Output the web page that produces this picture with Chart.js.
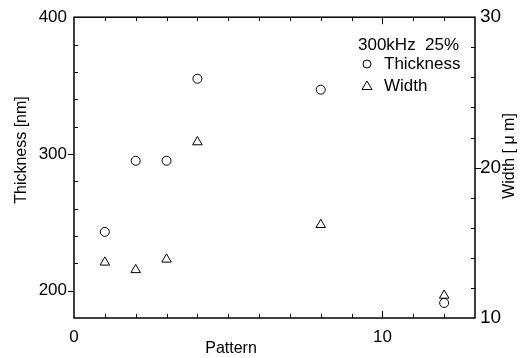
<!DOCTYPE html>
<html>
<head>
<meta charset="utf-8">
<script src="https://cdn.jsdelivr.net/npm/chart.js@4.4.1/dist/chart.umd.min.js"></script>
<style>
  html, body { margin: 0; padding: 0; background: #fff; }
  #wrap { width: 528px; height: 358px; }
</style>
</head>
<body>
<div id="wrap"><canvas id="chartCanvas" width="528" height="358"></canvas></div>
<script>
// data
const patterns = [1, 2, 3, 4, 8, 12];
const thickness = [243, 295, 295, 355, 347, 191];   // nm, left axis
const widths = [13.7, 13.2, 13.9, 21.7, 16.2, 11.5]; // um, right axis

const xTicks = [0, 10];
const thicknessTicks = [200, 300, 400];
const widthTicks = [10, 20, 30];
const legendTitle = '300kHz  25%';

const FONT = '"Liberation Sans", Arial, sans-serif';
const INK = '#000';

function toPoints(xs, ys) {
    return xs.map((x, i) => ({ x: x, y: ys[i] }));
}

function fixTicks(values) {
    return function (scale) {
        scale.ticks = values.map(v => ({ value: v }));
    };
}

// frame, inward/outward ticks, axis titles and the legend box
const framePlugin = {
    id: 'frame',
    afterDraw(chart) {
        const ctx = chart.ctx;
        const a = chart.chartArea;
        const sx = chart.scales.x;
        const yl = chart.scales.y;
        const yr = chart.scales.y2;
        ctx.save();
        ctx.strokeStyle = INK;
        ctx.lineWidth = 1.5;
        ctx.strokeRect(a.left, a.top, a.right - a.left, a.bottom - a.top);

        ctx.lineWidth = 1;
        ctx.beginPath();
        // x ticks, bottom and top, pointing inwards
        for (let v = sx.min + 1; v < sx.max; v++) {
            const px = Math.round(sx.getPixelForValue(v)) + 0.5;
            const len = xTicks.includes(v) ? 7 : 4;
            ctx.moveTo(px, a.bottom); ctx.lineTo(px, a.bottom - len);
            ctx.moveTo(px, a.top); ctx.lineTo(px, a.top + len);
        }
        // left axis
        for (let v = 200; v < yl.max; v += 20) {
            const py = Math.round(yl.getPixelForValue(v)) + 0.5;
            if (thicknessTicks.includes(v)) {
                ctx.moveTo(a.left, py); ctx.lineTo(a.left - 6, py);
            } else {
                ctx.moveTo(a.left, py); ctx.lineTo(a.left + 4, py);
            }
        }
        // right axis
        for (let v = yr.min + 2; v < yr.max; v += 2) {
            const py = Math.round(yr.getPixelForValue(v)) + 0.5;
            if (widthTicks.includes(v)) {
                ctx.moveTo(a.right, py); ctx.lineTo(a.right + 6, py);
            } else {
                ctx.moveTo(a.right, py); ctx.lineTo(a.right - 4, py);
            }
        }
        ctx.stroke();

        // axis titles
        ctx.fillStyle = INK;
        ctx.font = '16px ' + FONT;
        ctx.textAlign = 'center';
        ctx.textBaseline = 'middle';
        ctx.fillText('Pattern', 231, 349);
        ctx.save();
        ctx.translate(22, 150);
        ctx.rotate(-Math.PI / 2);
        ctx.fillText('Thickness [nm]', 0, 0);
        ctx.restore();
        ctx.save();
        ctx.translate(510, 156);
        ctx.rotate(-Math.PI / 2);
        ctx.fillText('Width [ \u03bc m]', 0, 0);
        ctx.restore();

        // legend
        ctx.textAlign = 'left';
        ctx.font = '17px ' + FONT;
        ctx.fillText(legendTitle, 358, 45);
        ctx.lineWidth = 1;
        ctx.beginPath();
        ctx.arc(367, 64, 4, 0, Math.PI * 2);
        ctx.stroke();
        ctx.beginPath();
        ctx.moveTo(367, 81); ctx.lineTo(372, 89.5); ctx.lineTo(362, 89.5); ctx.closePath();
        ctx.stroke();
        ctx.fillText(chart.data.datasets[0].label, 384, 64);
        ctx.fillText(chart.data.datasets[1].label, 384, 86);
        ctx.restore();
    }
};

const ctx = document.getElementById('chartCanvas').getContext('2d');

const chart = new Chart(ctx, {
    type: 'scatter',
    data: {
        datasets: [{
            label: 'Thickness',
            data: toPoints(patterns, thickness),
            yAxisID: 'y',
            pointStyle: 'circle',
            pointRadius: 4.5,
            pointBorderWidth: 1,
            borderColor: INK,
            backgroundColor: 'rgba(0,0,0,0)'
        }, {
            label: 'Width',
            data: toPoints(patterns, widths),
            yAxisID: 'y2',
            pointStyle: 'triangle',
            pointRadius: 5.5,
            pointBorderWidth: 1,
            borderColor: INK,
            backgroundColor: 'rgba(0,0,0,0)'
        }]
    },
    options: {
        responsive: false,
        animation: false,
        events: [],
        layout: { padding: { top: 17, left: 0, right: 0, bottom: 0 } },
        plugins: { legend: { display: false }, tooltip: { enabled: false } },
        scales: {
            x: {
                type: 'linear',
                min: 0, max: 13,
                afterBuildTicks: fixTicks(xTicks),
                afterFit(scale) { scale.height = 40; },
                grid: { display: false, drawTicks: false },
                border: { display: false },
                ticks: {
                    autoSkip: false, maxRotation: 0, padding: 9,
                    color: INK, font: { family: FONT, size: 17 }
                }
            },
            y: {
                position: 'left',
                min: 180, max: 400,
                afterBuildTicks: fixTicks(thicknessTicks),
                afterFit(scale) { scale.width = 74; },
                grid: { display: false, drawTicks: false },
                border: { display: false },
                ticks: { padding: 7, color: INK, font: { family: FONT, size: 17 } }
            },
            y2: {
                position: 'right',
                min: 10, max: 30,
                afterBuildTicks: fixTicks(widthTicks),
                afterFit(scale) { scale.width = 53; },
                grid: { display: false, drawTicks: false },
                border: { display: false },
                ticks: { padding: 5, color: INK, font: { family: FONT, size: 19 } }
            }
        }
    },
    plugins: [framePlugin]
});
</script>
</body>
</html>
